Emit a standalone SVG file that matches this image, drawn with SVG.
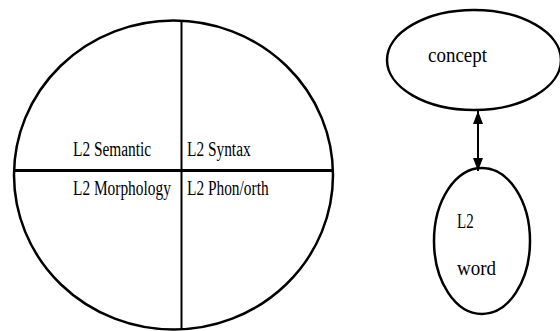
<svg xmlns="http://www.w3.org/2000/svg" width="560" height="331" viewBox="0 0 560 331">
<defs>
<style>
.shape{fill:none;stroke:#000;stroke-width:2.5}
.div{stroke:#000;fill:none}
text{font-family:"Liberation Serif","Times New Roman",serif;font-size:20px;fill:#000}
.conn{stroke:#000;stroke-width:2;fill:none}
</style>
<marker id="ah" viewBox="0 0 10 10" refX="10" refY="5" markerWidth="6.5" markerHeight="5" markerUnits="strokeWidth" orient="auto-start-reverse" preserveAspectRatio="none">
<path d="M0,0 L10,5 L0,10 Z" fill="#000"/>
</marker>
</defs>
<rect width="560" height="331" fill="#fff"/>
<g id="l2-system">
<ellipse class="shape" cx="173.5" cy="175" rx="159.5" ry="154.5"/>
<line class="div" x1="14" y1="170.5" x2="333" y2="170.5" stroke-width="3"/>
<line class="div" x1="181.5" y1="21" x2="181.5" y2="330" stroke-width="2"/>
<text transform="translate(73,155.5) scale(0.77,1)">L2 Semantic</text>
<text transform="translate(187,155.5) scale(0.77,1)">L2 Syntax</text>
<text transform="translate(73,194.5) scale(0.77,1)">L2 Morphology</text>
<text transform="translate(187,194.5) scale(0.77,1)">L2 Phon/orth</text>
</g>
<g id="concept">
<ellipse class="shape" cx="474" cy="60" rx="87" ry="50"/>
<text transform="translate(428,61.5) scale(0.95,1)">concept</text>
</g>
<g id="l2-word">
<ellipse class="shape" cx="482" cy="241" rx="48" ry="73"/>
<text transform="translate(457,228) scale(0.75,1)">L2</text>
<text transform="translate(457,275) scale(0.95,1)">word</text>
</g>
<g id="connectors">
<line class="conn" x1="478" y1="111" x2="478" y2="171" marker-start="url(#ah)" marker-end="url(#ah)"/>
</g>
</svg>
